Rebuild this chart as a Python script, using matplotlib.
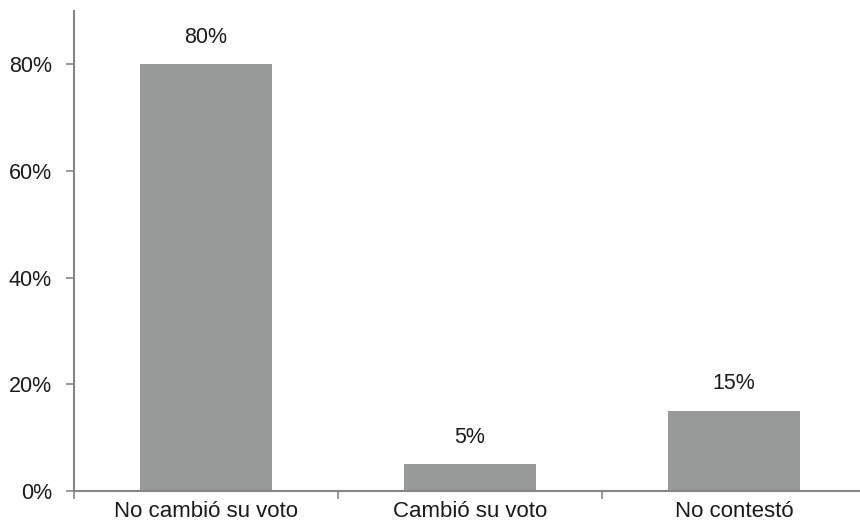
import matplotlib
matplotlib.use("Agg")
import matplotlib.pyplot as plt
from matplotlib.ticker import FixedLocator, FuncFormatter

categories = ["No cambió su voto", "Cambió su voto", "No contestó"]
values = [80, 5, 15]
yticks = [0, 20, 40, 60, 80]

plt.rcParams['font.family'] = ['Liberation Sans', 'DejaVu Sans']

fig = plt.figure(figsize=(8.6, 5.22), dpi=100)
ax = fig.add_axes([74/860, 31/522, (860-74)/860, 480/522])

x = list(range(len(categories)))
bar_color = "#989a9a"
axis_color = "#868686"
text_color = "#1a1a1a"
fs = 15.5
ax.bar(x, values, width=0.5, color=bar_color, zorder=2)

for xi, v in zip(x, values):
    ax.annotate(f"{v}%", (xi, v), xytext=(0, 12), textcoords="offset points",
                ha="center", va="bottom", fontsize=fs, color=text_color)

ax.set_ylim(0, 90)
ax.set_xlim(-0.5, 2.5 - 6/264)

ax.yaxis.set_major_locator(FixedLocator(yticks))
ax.yaxis.set_major_formatter(FuncFormatter(lambda v, p: f"{int(v)}%"))
ax.set_xticks(x)
ax.set_xticklabels(categories)
ax.xaxis.set_minor_locator(FixedLocator([-0.5, 0.5, 1.5]))

for s in ["top", "right"]:
    ax.spines[s].set_visible(False)
for s in ["left", "bottom"]:
    ax.spines[s].set_color(axis_color)
    ax.spines[s].set_linewidth(1.5)

ax.tick_params(axis="y", length=6, width=1.2, color=axis_color, direction="out",
               pad=10, labelsize=fs, labelcolor=text_color)
ax.tick_params(axis="x", which="major", length=0, pad=7.5, labelsize=16, labelcolor=text_color)
ax.tick_params(axis="x", which="minor", length=6, width=1.2, color=axis_color, direction="out")

fig.savefig("out.png", dpi=100)
